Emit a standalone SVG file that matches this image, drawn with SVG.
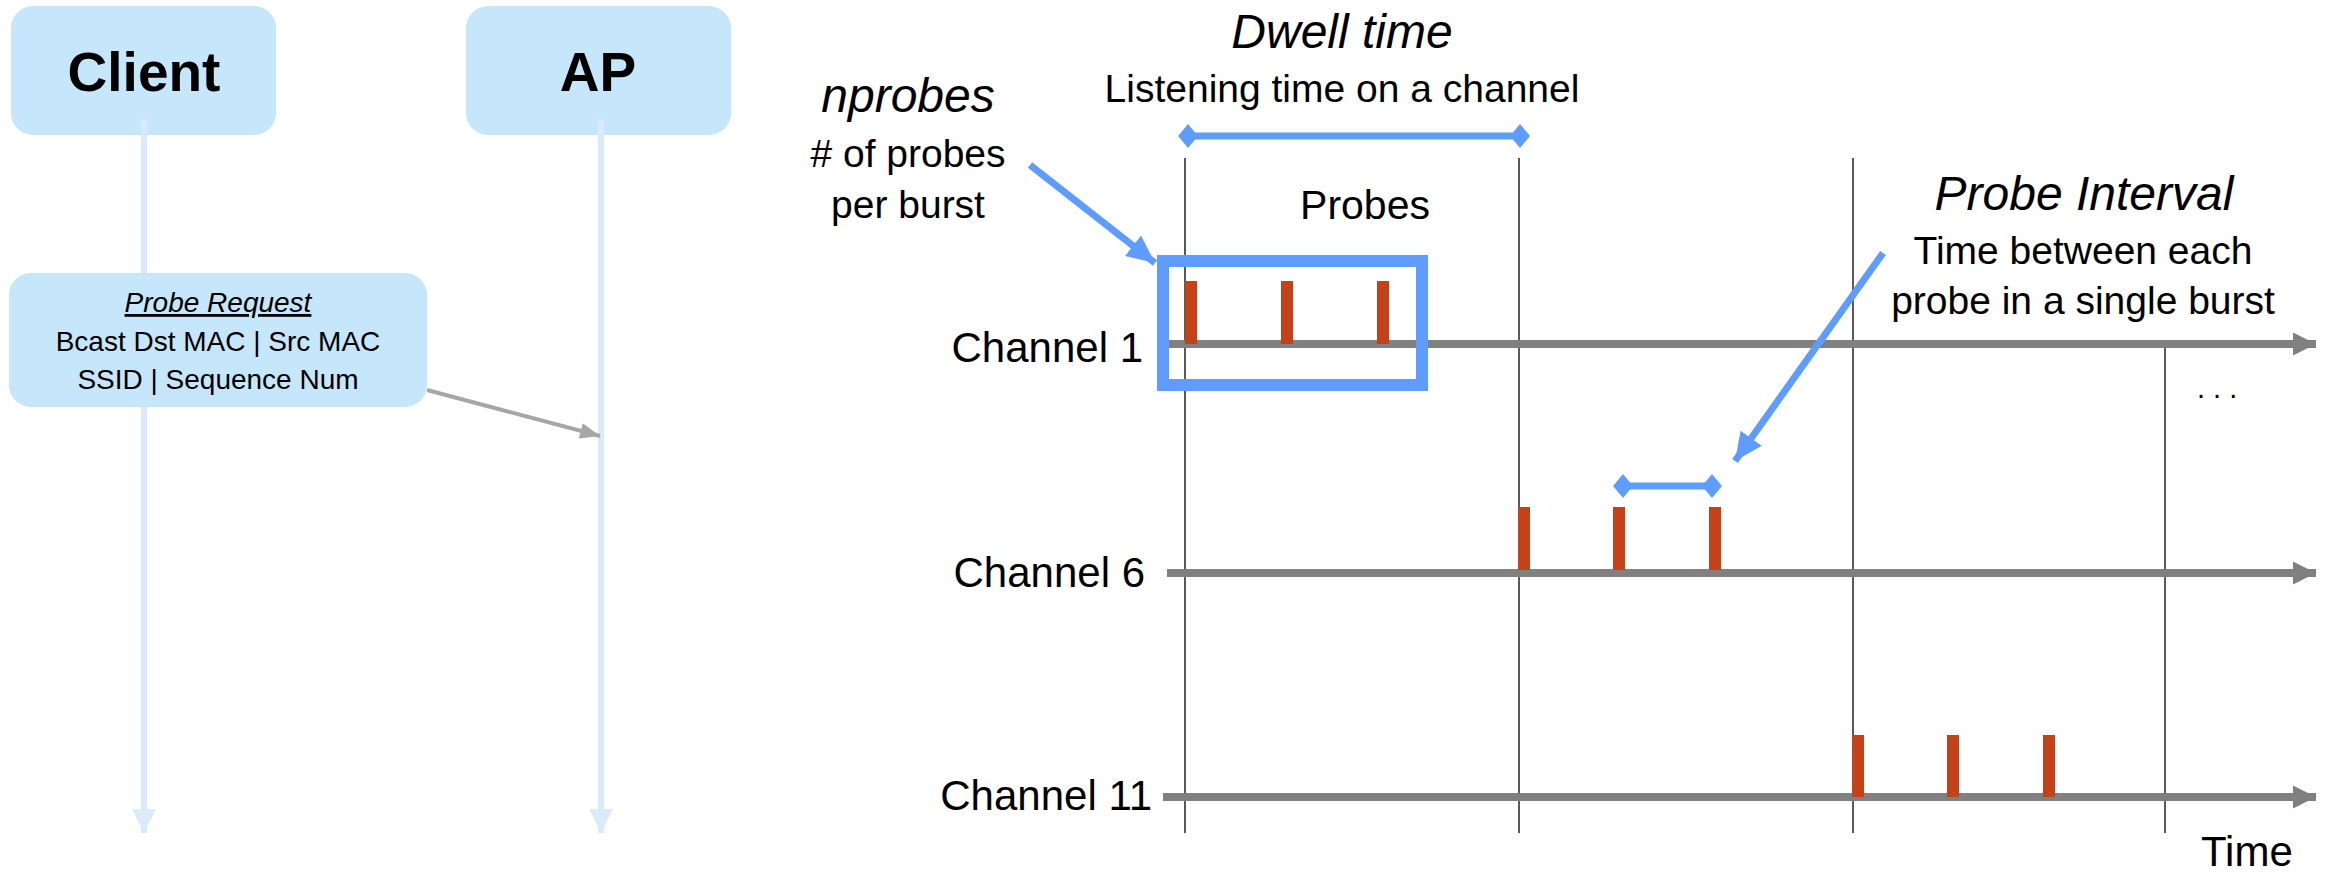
<svg xmlns="http://www.w3.org/2000/svg" width="2334" height="873" viewBox="0 0 2334 873">
  <style>
    .box { fill: #c6e6fb; }
    .life { stroke: #dbe9fc; stroke-width: 6; fill: none; }
    .hdr { font-family: "Liberation Sans", Arial, sans-serif; font-weight: bold; font-size: 55px; fill: #000; text-anchor: middle; }
    .msg { font-family: "Liberation Sans", Arial, sans-serif; font-size: 28px; fill: #000; text-anchor: middle; }
    .title { font-family: "Liberation Sans", Arial, sans-serif; font-style: italic; font-size: 48px; fill: #000; text-anchor: middle; }
    .note { font-family: "Liberation Sans", Arial, sans-serif; font-size: 39px; fill: #000; text-anchor: middle; }
    .lbl { font-family: "Liberation Sans", Arial, sans-serif; font-size: 42px; fill: #000; }
    .dots { font-family: "Liberation Sans", Arial, sans-serif; font-size: 29px; fill: #000; }
    .axis { stroke: #808080; stroke-width: 8; fill: none; }
    .tick { stroke: #000; stroke-width: 1.3; fill: none; }
    .probe { fill: #c4421a; }
    .blue { stroke: #5e9cff; stroke-width: 7; fill: none; }
  </style>
  <defs>
    <marker id="lifeHead" markerUnits="userSpaceOnUse" viewBox="0 0 24 24" markerWidth="24" markerHeight="24" refX="24" refY="12" orient="auto">
      <path d="M0,0 L24,12 L0,24 z" fill="#dbe9fc"/>
    </marker>
    <marker id="msgHead" markerUnits="userSpaceOnUse" viewBox="0 0 20 16" markerWidth="20" markerHeight="16" refX="20" refY="8" orient="auto">
      <path d="M0,0 L20,8 L0,16 z" fill="#a6a6a6"/>
    </marker>
    <marker id="axisHead" markerUnits="userSpaceOnUse" viewBox="0 0 23 23" markerWidth="23" markerHeight="23" refX="23" refY="11.5" orient="auto">
      <path d="M0,0 L23,11.5 L0,23 z" fill="#808080"/>
    </marker>
    <marker id="diamond" markerUnits="userSpaceOnUse" viewBox="0 0 20 24" markerWidth="20" markerHeight="24" refX="10" refY="12" orient="auto">
      <path d="M0,12 L10,0 L20,12 L10,24 z" fill="#5e9cff"/>
    </marker>
    <marker id="blueHead" markerUnits="userSpaceOnUse" viewBox="0 0 28 26" markerWidth="28" markerHeight="26" refX="28" refY="13" orient="auto">
      <path d="M0,0 L28,13 L0,26 z" fill="#5e9cff"/>
    </marker>
  </defs>

  <!-- sequence participants -->
  <g id="client">
    <rect class="box" x="11" y="6" width="265" height="129" rx="22"/>
    <text class="hdr" x="144" y="91">Client</text>
  </g>
  <g id="ap">
    <rect class="box" x="466" y="6" width="265" height="129" rx="22"/>
    <text class="hdr" x="598" y="91">AP</text>
  </g>

  <!-- lifelines and message -->
  <g id="connectors">
    <line class="life" x1="144" y1="119" x2="144" y2="833" marker-end="url(#lifeHead)"/>
    <line class="life" x1="601" y1="119" x2="601" y2="833" marker-end="url(#lifeHead)"/>
    <line x1="427" y1="390" x2="600" y2="436" stroke="#a6a6a6" stroke-width="4" marker-end="url(#msgHead)"/>
  </g>

  <g id="probe-request">
    <rect class="box" x="9" y="273" width="418" height="134" rx="22"/>
    <text class="msg" x="218" y="312" font-style="italic" text-decoration="underline">Probe Request</text>
    <text class="msg" x="218" y="351">Bcast Dst MAC | Src MAC</text>
    <text class="msg" x="218" y="389">SSID | Sequence Num</text>
  </g>

  <!-- timeline: dwell boundaries -->
  <g id="dwell-marks">
    <line class="tick" x1="1185" y1="158" x2="1185" y2="833"/>
    <line class="tick" x1="1519" y1="158" x2="1519" y2="833"/>
    <line class="tick" x1="1853" y1="158" x2="1853" y2="833"/>
    <line class="tick" x1="2165" y1="347" x2="2165" y2="833"/>
  </g>

  <!-- channel axes -->
  <g id="channel-1">
    <text class="lbl" x="1143" y="362" text-anchor="end">Channel 1</text>
    <line class="axis" x1="1167" y1="344" x2="2316" y2="344" marker-end="url(#axisHead)"/>
    <rect class="probe" x="1185" y="281" width="12" height="63"/>
    <rect class="probe" x="1281" y="281" width="12" height="63"/>
    <rect class="probe" x="1377" y="281" width="12" height="63"/>
  </g>
  <g id="channel-6">
    <text class="lbl" x="1145" y="587" text-anchor="end">Channel 6</text>
    <line class="axis" x1="1167" y1="573" x2="2316" y2="573" marker-end="url(#axisHead)"/>
    <rect class="probe" x="1518" y="507" width="12" height="63"/>
    <rect class="probe" x="1613" y="507" width="12" height="63"/>
    <rect class="probe" x="1709" y="507" width="12" height="63"/>
  </g>
  <g id="channel-11">
    <text class="lbl" x="1152" y="810" text-anchor="end">Channel 11</text>
    <line class="axis" x1="1163" y1="797" x2="2316" y2="797" marker-end="url(#axisHead)"/>
    <rect class="probe" x="1852" y="735" width="12" height="62"/>
    <rect class="probe" x="1947" y="735" width="12" height="62"/>
    <rect class="probe" x="2043" y="735" width="12" height="62"/>
  </g>

  <g id="time-label">
    <text class="lbl" x="2201" y="866">Time</text>
    <text class="dots" x="2197" y="398">. . .</text>
  </g>

  <!-- annotations -->
  <g id="dwell-time">
    <text class="title" x="1342" y="48">Dwell time</text>
    <text class="note" x="1342" y="102">Listening time on a channel</text>
    <line class="blue" x1="1188" y1="136" x2="1520" y2="136" marker-start="url(#diamond)" marker-end="url(#diamond)"/>
    <text class="note" x="1365" y="219" style="font-size:41px">Probes</text>
  </g>

  <g id="nprobes">
    <text class="title" x="908" y="112">nprobes</text>
    <text class="note" x="908" y="167"># of probes</text>
    <text class="note" x="908" y="218">per burst</text>
    <rect x="1163" y="261" width="259" height="124" fill="none" stroke="#5e9cff" stroke-width="12"/>
  </g>

  <g id="probe-interval">
    <text class="title" x="2084" y="210">Probe Interval</text>
    <text class="note" x="2083" y="264">Time between each</text>
    <text class="note" x="2083" y="314">probe in a single burst</text>
    <line class="blue" x1="1623" y1="486" x2="1712" y2="486" marker-start="url(#diamond)" marker-end="url(#diamond)"/>
  </g>

  <g id="pointers">
    <line class="blue" x1="1030" y1="165" x2="1155" y2="263" marker-end="url(#blueHead)"/>
    <line class="blue" x1="1883" y1="253" x2="1735" y2="461" marker-end="url(#blueHead)"/>
  </g>
</svg>
